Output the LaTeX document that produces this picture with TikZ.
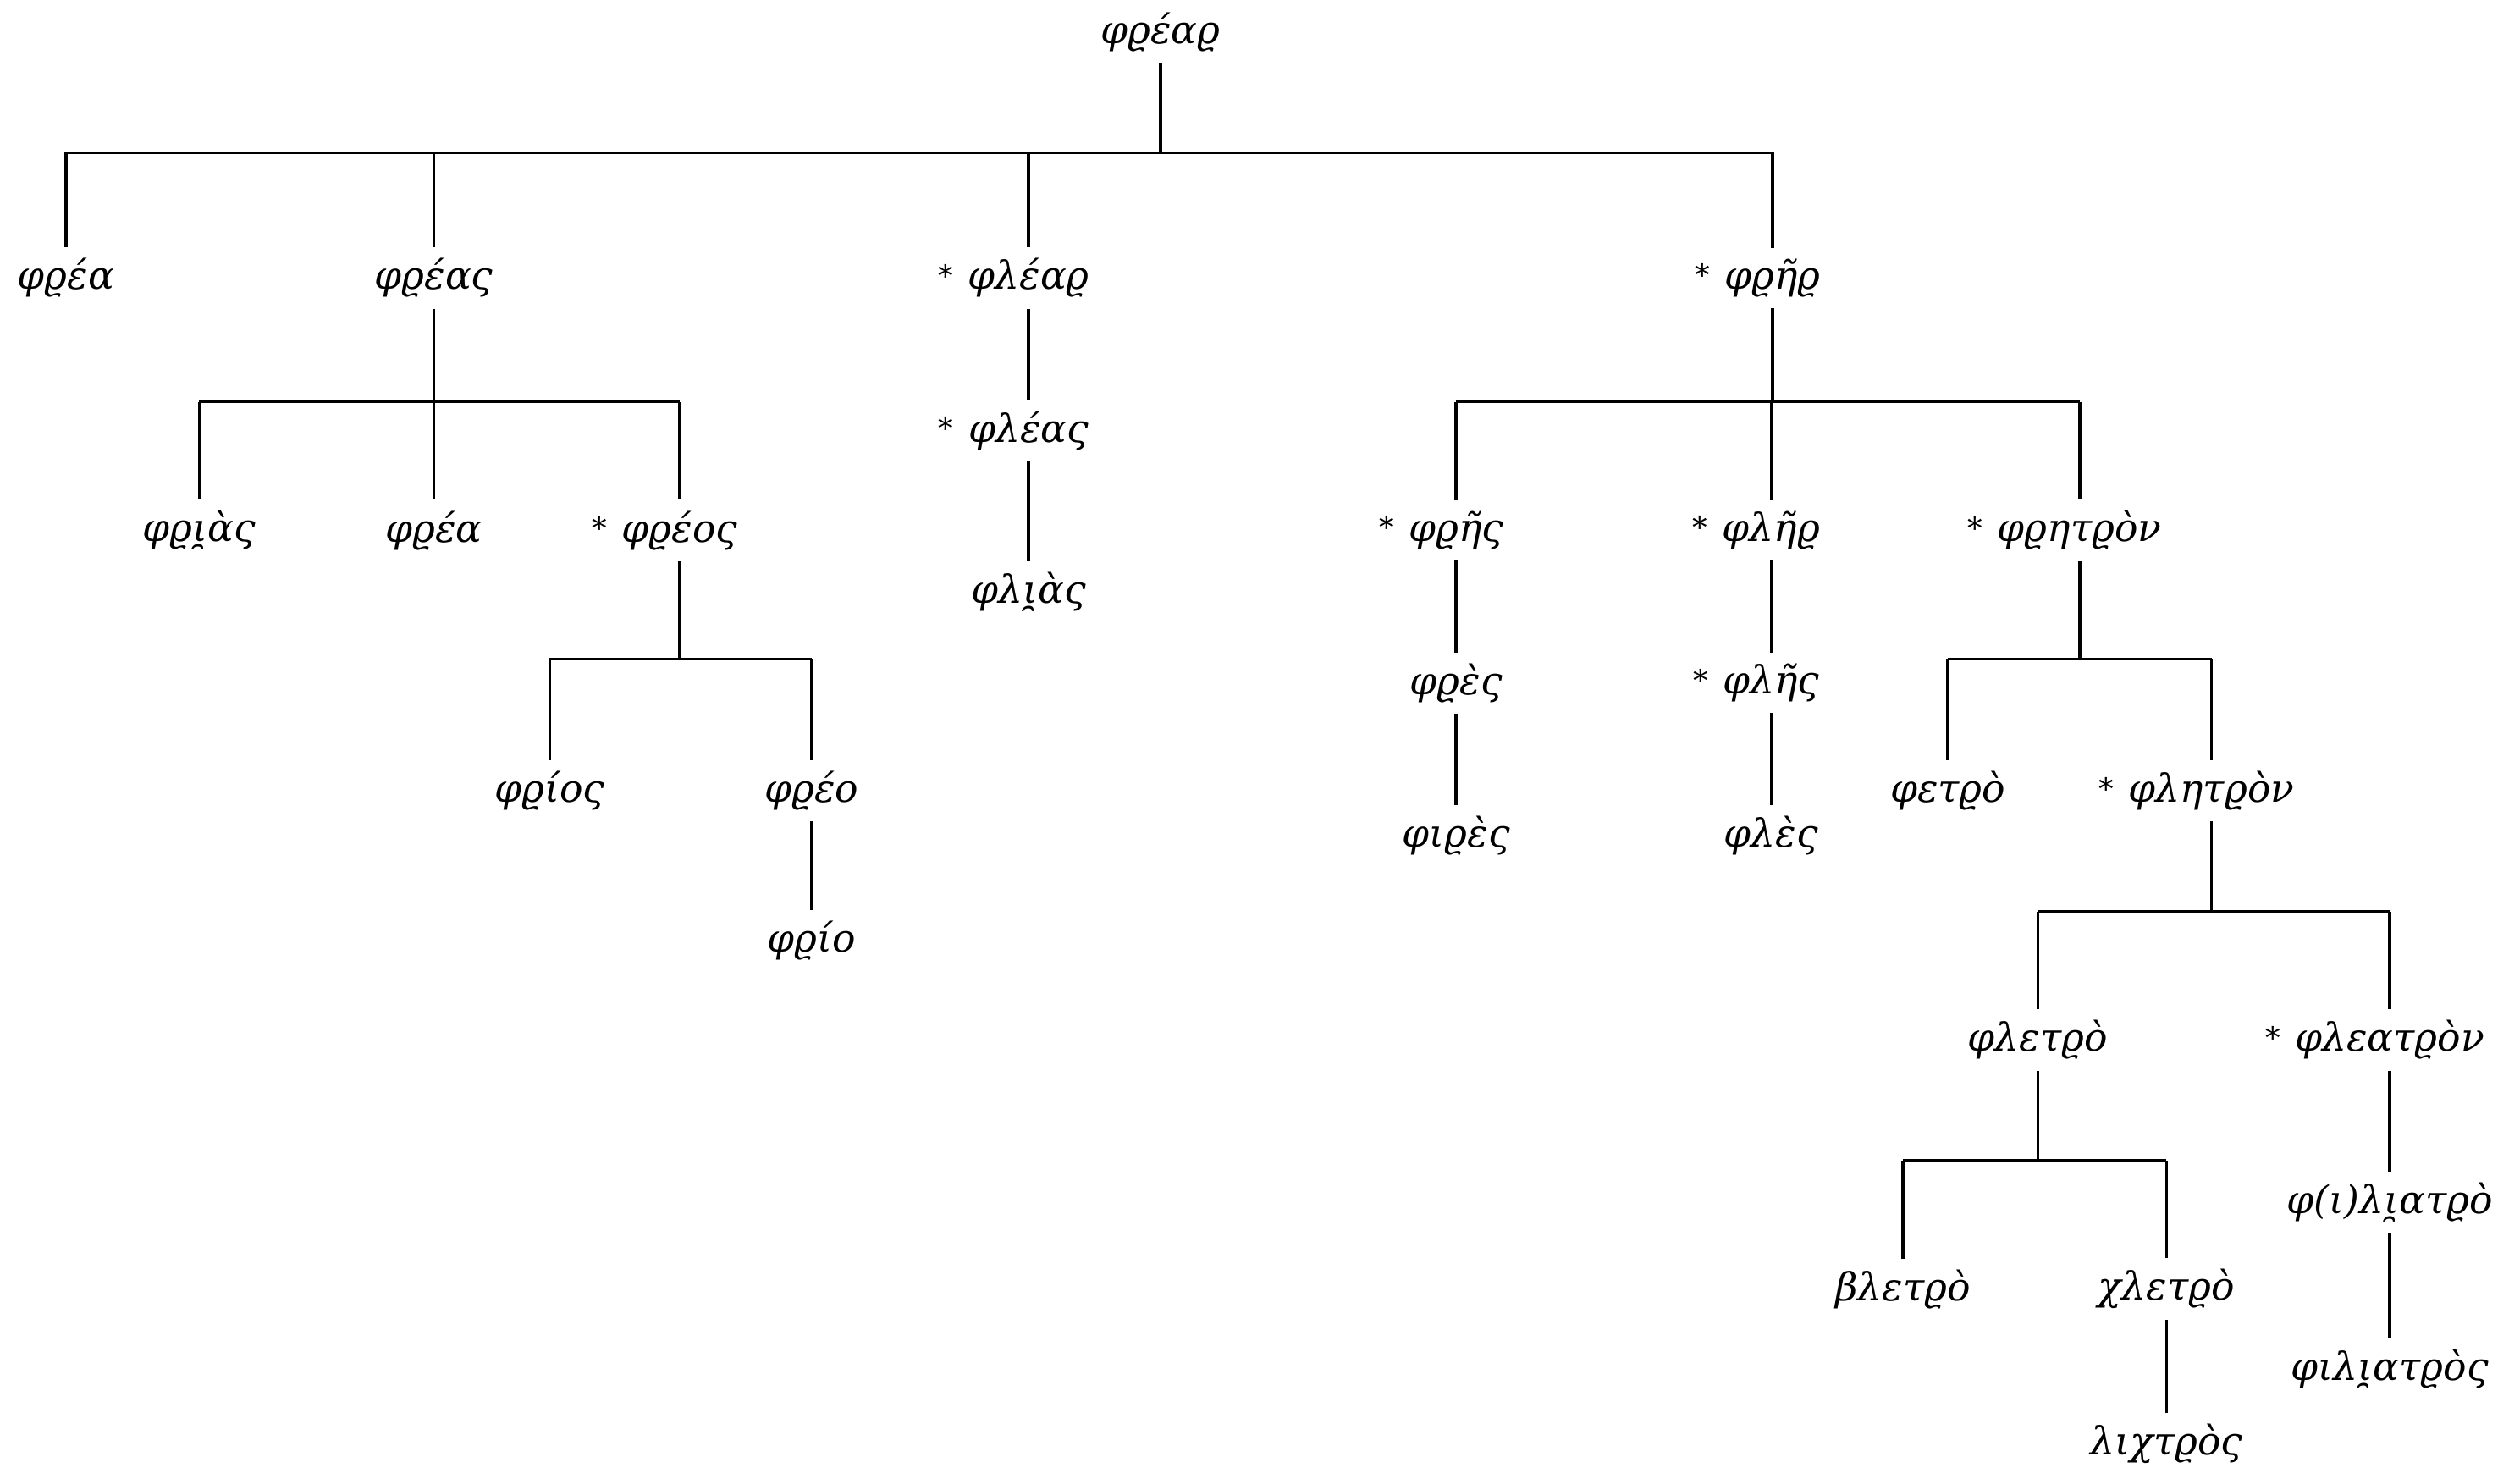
\documentclass[tikz,border=0pt]{standalone}
\usepackage{fontspec}
\setmainfont{DejaVu Serif}
\newcommand\mystar{\llap{\upshape\raisebox{1pt}{\fontsize{10}{12}\selectfont *}\hspace{5pt}}}
\begin{document}
\begin{tikzpicture}[x=0.018986cm, y=-0.018986cm,
  w/.style={font=\fontsize{13}{15}\selectfont\itshape, inner sep=3.5pt},
  ln/.style={line width=1pt}]
\useasboundingbox (0,0) rectangle (1568,913);
% bar levels
\coordinate (b0) at (0,95);
\coordinate (b1) at (0,250);
\coordinate (b2) at (0,410);
\coordinate (b3) at (0,567);
\coordinate (b4) at (0,722);
% nodes
\node[w] (root) at (722,20) {φϱέαϱ};
\node[w] (fea1) at (41,173) {φϱέα};
\node[w] (feas) at (270,173) {φϱέας};
\node[w] (flear) at (640,173) {\mystar φλέαϱ};
\node[w] (frer) at (1103,173) {\mystar φϱῆϱ};
\node[w] (frias) at (124,330) {φϱι̯ὰς};
\node[w] (fea2) at (270,330) {φϱέα};
\node[w] (freos) at (423,330) {\mystar φϱέος};
\node[w] (frios) at (342,492) {φϱίος};
\node[w] (freo) at (505,492) {φϱέο};
\node[w] (frio) at (505,585) {φϱίο};
\node[w] (fleas) at (640,268) {\mystar φλέας};
\node[w] (flias) at (640,368) {φλι̯ὰς};
\node[w] (fres) at (906,330) {\mystar φϱῆς};
\node[w] (fler) at (1102,330) {\mystar φλῆϱ};
\node[w] (fretron) at (1294,330) {\mystar φϱητϱὸν};
\node[w] (fres2) at (906,425) {φϱὲς};
\node[w] (fires) at (906,520) {φιϱὲς};
\node[w] (fles) at (1102,425) {\mystar φλῆς};
\node[w] (fles2) at (1102,520) {φλὲς};
\node[w] (fetro) at (1212,492) {φετϱὸ};
\node[w] (fletron) at (1376,492) {\mystar φλητϱὸν};
\node[w] (fletro) at (1268,647) {φλετϱὸ};
\node[w] (fleatron) at (1487,647) {\mystar φλεατϱὸν};
\node[w] (bletro) at (1184,802) {βλετϱὸ};
\node[w] (chletro) at (1348,802) {χλετϱὸ};
\node[w] (lichtros) at (1348,898) {λιχτϱὸς};
\node[w] (filiatro) at (1487,748) {φ(ι)λι̯ατϱὸ};
\node[w] (filiatros) at (1487,852) {φιλι̯ατϱὸς};
% connectors: root
\draw[ln] (root) -- (root |- b0);
\draw[ln] (fea1 |- b0) -- (frer |- b0);
\draw[ln] (fea1 |- b0) -- (fea1);
\draw[ln] (feas |- b0) -- (feas);
\draw[ln] (flear |- b0) -- (flear);
\draw[ln] (frer |- b0) -- (frer);
% feas
\draw[ln] (feas) -- (feas |- b1);
\draw[ln] (frias |- b1) -- (freos |- b1);
\draw[ln] (frias |- b1) -- (frias);
\draw[ln] (fea2 |- b1) -- (fea2);
\draw[ln] (freos |- b1) -- (freos);
% freos
\draw[ln] (freos) -- (freos |- b2);
\draw[ln] (frios |- b2) -- (freo |- b2);
\draw[ln] (frios |- b2) -- (frios);
\draw[ln] (freo |- b2) -- (freo);
\draw[ln] (freo) -- (frio);
% flear chain
\draw[ln] (flear) -- (fleas);
\draw[ln] (fleas) -- (flias);
% frer
\draw[ln] (frer) -- (frer |- b1);
\draw[ln] (fres |- b1) -- (fretron |- b1);
\draw[ln] (fres |- b1) -- (fres);
\draw[ln] (fler |- b1) -- (fler);
\draw[ln] (fretron |- b1) -- (fretron);
\draw[ln] (fres) -- (fres2);
\draw[ln] (fres2) -- (fires);
\draw[ln] (fler) -- (fles);
\draw[ln] (fles) -- (fles2);
% fretron
\draw[ln] (fretron) -- (fretron |- b2);
\draw[ln] (fetro |- b2) -- (fletron |- b2);
\draw[ln] (fetro |- b2) -- (fetro);
\draw[ln] (fletron |- b2) -- (fletron);
% fletron
\draw[ln] (fletron) -- (fletron |- b3);
\draw[ln] (fletro |- b3) -- (fleatron |- b3);
\draw[ln] (fletro |- b3) -- (fletro);
\draw[ln] (fleatron |- b3) -- (fleatron);
% fletro
\draw[ln] (fletro) -- (fletro |- b4);
\draw[ln] (bletro |- b4) -- (chletro |- b4);
\draw[ln] (bletro |- b4) -- (bletro);
\draw[ln] (chletro |- b4) -- (chletro);
\draw[ln] (chletro) -- (lichtros);
% fleatron chain
\draw[ln] (fleatron) -- (filiatro);
\draw[ln] (filiatro) -- (filiatros);
\end{tikzpicture}
\end{document}
